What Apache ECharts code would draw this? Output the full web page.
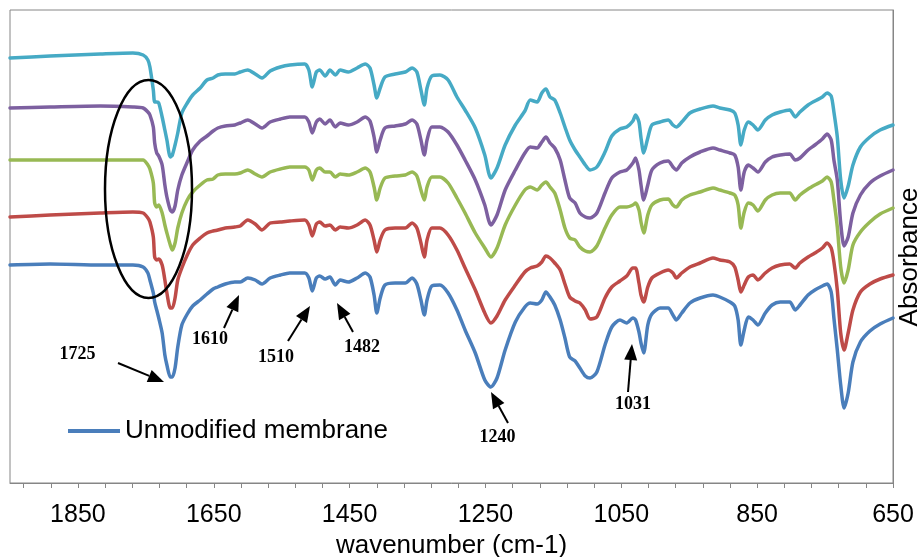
<!DOCTYPE html>
<html>
<head>
<meta charset="utf-8">
<title>FTIR spectra</title>
<script src="https://cdn.jsdelivr.net/npm/echarts@6/dist/echarts.min.js"></script>
<style>
    html, body { margin: 0; padding: 0; background: #fff; }
    #chart { width: 924px; height: 557px; }
</style>
</head>
<body>
<div id="chart"></div>
<script>
// wavenumber (cm-1), shared by every spectrum
var wavenumbers = [
    1950, 1891, 1817, 1769, 1754, 1747, 1744, 1739, 1737, 1734,
    1731, 1726, 1722, 1719, 1714, 1711, 1707, 1703, 1697, 1689,
    1681, 1670, 1660, 1651, 1644, 1633, 1619, 1611, 1600, 1589,
    1579, 1567, 1552, 1538, 1516, 1510, 1505, 1499, 1494, 1486,
    1479, 1471, 1464, 1452, 1439, 1427, 1420, 1414, 1410, 1405,
    1398, 1383, 1368, 1358, 1351, 1345, 1340, 1336, 1329, 1317,
    1305, 1292, 1280, 1265, 1251, 1242, 1233, 1221, 1206, 1192,
    1184, 1174, 1167, 1161, 1155, 1148, 1140, 1133, 1126, 1118,
    1111, 1103, 1096, 1086, 1074, 1064, 1052, 1042, 1033, 1029,
    1024, 1021, 1017, 1011, 1005, 993, 981, 974, 969, 961,
    949, 934, 915, 905, 890, 883, 878, 874, 869, 863,
    856, 849, 838, 828, 816, 802, 794, 787, 775, 765,
    754, 747, 741, 737, 732, 727, 722, 716, 709, 698,
    684, 669, 650
];

// absorbance (a.u., stacked offsets as plotted)
var unmodifiedMembrane = [
    2.18, 2.19, 2.18, 2.18, 2.16, 2.10, 2.03, 1.90, 1.81, 1.73,
    1.65, 1.50, 1.28, 1.18, 1.06, 1.06, 1.15, 1.36, 1.58, 1.69,
    1.77, 1.83, 1.89, 1.94, 1.96, 1.99, 2.01, 2.01, 2.05, 2.03,
    1.99, 2.05, 2.08, 2.10, 2.10, 2.05, 1.92, 2.05, 2.07, 2.04,
    2.06, 1.98, 2.03, 2.01, 2.05, 2.10, 2.06, 1.88, 1.70, 1.85,
    1.98, 2.00, 2.00, 2.05, 1.99, 1.83, 1.68, 1.83, 1.97, 1.98,
    1.90, 1.73, 1.53, 1.30, 1.03, 0.96, 1.05, 1.33, 1.61, 1.76,
    1.80, 1.79, 1.83, 1.91, 1.86, 1.78, 1.63, 1.45, 1.26, 1.22,
    1.15, 1.07, 1.05, 1.11, 1.38, 1.56, 1.63, 1.60, 1.65, 1.63,
    1.51, 1.40, 1.30, 1.58, 1.69, 1.75, 1.75, 1.68, 1.63, 1.70,
    1.80, 1.85, 1.88, 1.86, 1.81, 1.77, 1.63, 1.38, 1.53, 1.66,
    1.63, 1.58, 1.70, 1.78, 1.81, 1.81, 1.73, 1.78, 1.88, 1.93,
    1.97, 1.99, 1.91, 1.65, 1.33, 0.98, 0.75, 0.90, 1.21, 1.41,
    1.52, 1.59, 1.65
];

var redSpectrum = [
    2.66, 2.68, 2.70, 2.71, 2.70, 2.65, 2.61, 2.46, 2.26, 2.23,
    2.24, 2.18, 2.03, 1.90, 1.75, 1.75, 1.85, 2.03, 2.15, 2.28,
    2.38, 2.45, 2.50, 2.52, 2.53, 2.55, 2.56, 2.57, 2.63, 2.59,
    2.53, 2.60, 2.61, 2.62, 2.63, 2.58, 2.47, 2.59, 2.61, 2.57,
    2.58, 2.53, 2.56, 2.55, 2.58, 2.63, 2.58, 2.43, 2.31, 2.43,
    2.53, 2.55, 2.55, 2.60, 2.55, 2.40, 2.26, 2.43, 2.55, 2.55,
    2.48, 2.33, 2.15, 1.93, 1.70, 1.60, 1.67, 1.83, 1.98, 2.11,
    2.15, 2.17, 2.21, 2.27, 2.25, 2.20, 2.13, 1.99, 1.86, 1.82,
    1.80, 1.73, 1.64, 1.66, 1.85, 1.96, 2.02, 2.07, 2.15, 2.15,
    2.00, 1.88, 1.81, 1.96, 2.05, 2.10, 2.13, 2.10, 2.05, 2.10,
    2.16, 2.20, 2.25, 2.23, 2.21, 2.16, 2.03, 1.91, 1.98, 2.06,
    2.08, 2.03, 2.10, 2.15, 2.18, 2.19, 2.15, 2.20, 2.26, 2.30,
    2.35, 2.40, 2.35, 2.21, 1.93, 1.50, 1.33, 1.50, 1.73, 1.91,
    1.99, 2.04, 2.08
];

var greenSpectrum = [
    3.23, 3.23, 3.23, 3.23, 3.23, 3.18, 3.14, 3.00, 2.80, 2.76,
    2.78, 2.70, 2.58, 2.50, 2.38, 2.33, 2.40, 2.55, 2.70, 2.83,
    2.91, 2.98, 3.03, 3.04, 3.08, 3.09, 3.09, 3.10, 3.13, 3.09,
    3.06, 3.11, 3.14, 3.16, 3.16, 3.13, 3.03, 3.13, 3.15, 3.11,
    3.11, 3.06, 3.09, 3.08, 3.11, 3.15, 3.11, 2.96, 2.83, 2.95,
    3.05, 3.07, 3.08, 3.11, 3.07, 2.93, 2.83, 2.96, 3.06, 3.06,
    3.00, 2.85, 2.70, 2.50, 2.35, 2.26, 2.35, 2.58, 2.78, 2.93,
    2.96, 2.93, 2.98, 3.01, 2.96, 2.90, 2.73, 2.55, 2.45, 2.43,
    2.36, 2.32, 2.31, 2.37, 2.55, 2.68, 2.76, 2.76, 2.78, 2.80,
    2.73, 2.61, 2.50, 2.68, 2.78, 2.83, 2.84, 2.78, 2.76, 2.83,
    2.88, 2.91, 2.95, 2.93, 2.90, 2.88, 2.78, 2.55, 2.71, 2.80,
    2.78, 2.72, 2.83, 2.88, 2.90, 2.90, 2.83, 2.88, 2.94, 2.98,
    3.02, 3.06, 3.01, 2.83, 2.56, 2.16, 2.00, 2.13, 2.38, 2.51,
    2.61, 2.69, 2.75
];

var purpleSpectrum = [
    3.75, 3.76, 3.77, 3.76, 3.75, 3.71, 3.68, 3.56, 3.40, 3.30,
    3.27, 3.18, 2.98, 2.86, 2.73, 2.71, 2.77, 2.93, 3.08, 3.21,
    3.33, 3.42, 3.47, 3.52, 3.55, 3.57, 3.58, 3.60, 3.63, 3.59,
    3.55, 3.61, 3.64, 3.66, 3.66, 3.61, 3.50, 3.61, 3.64, 3.59,
    3.63, 3.56, 3.60, 3.58, 3.61, 3.66, 3.62, 3.46, 3.31, 3.43,
    3.55, 3.57, 3.59, 3.63, 3.59, 3.43, 3.28, 3.43, 3.56, 3.56,
    3.51, 3.38, 3.23, 3.03, 2.78, 2.58, 2.68, 2.93, 3.13, 3.30,
    3.36, 3.35, 3.41, 3.46, 3.40, 3.35, 3.23, 3.03, 2.85, 2.80,
    2.70, 2.66, 2.65, 2.70, 2.90, 3.05, 3.11, 3.13, 3.20, 3.25,
    3.13, 2.98, 2.83, 2.98, 3.13, 3.20, 3.22, 3.16, 3.13, 3.20,
    3.26, 3.31, 3.35, 3.33, 3.30, 3.28, 3.16, 2.93, 3.11, 3.18,
    3.15, 3.11, 3.21, 3.26, 3.28, 3.29, 3.23, 3.25, 3.33, 3.38,
    3.44, 3.49, 3.43, 3.23, 3.03, 2.60, 2.37, 2.46, 2.70, 2.88,
    3.00, 3.07, 3.13
];

var cyanSpectrum = [
    4.25, 4.27, 4.29, 4.30, 4.28, 4.23, 4.16, 3.93, 3.81, 3.81,
    3.80, 3.66, 3.53, 3.43, 3.26, 3.28, 3.38, 3.50, 3.70, 3.80,
    3.88, 3.95, 4.03, 4.05, 4.08, 4.09, 4.09, 4.11, 4.13, 4.09,
    4.05, 4.12, 4.16, 4.18, 4.19, 4.13, 3.96, 4.11, 4.13, 4.07,
    4.13, 4.08, 4.13, 4.11, 4.15, 4.19, 4.15, 3.98, 3.85, 3.95,
    4.06, 4.09, 4.11, 4.15, 4.11, 3.93, 3.78, 3.95, 4.07, 4.08,
    4.03, 3.86, 3.73, 3.55, 3.28, 3.05, 3.15, 3.38, 3.58, 3.72,
    3.83, 3.81, 3.90, 3.94, 3.86, 3.83, 3.70, 3.56, 3.43, 3.33,
    3.26, 3.18, 3.13, 3.16, 3.31, 3.47, 3.54, 3.56, 3.62, 3.68,
    3.61, 3.45, 3.30, 3.45, 3.58, 3.61, 3.63, 3.58, 3.56, 3.61,
    3.70, 3.74, 3.77, 3.75, 3.73, 3.70, 3.58, 3.38, 3.53, 3.61,
    3.58, 3.53, 3.63, 3.68, 3.71, 3.73, 3.66, 3.71, 3.78, 3.82,
    3.86, 3.90, 3.87, 3.71, 3.46, 3.03, 2.85, 2.97, 3.18, 3.36,
    3.46, 3.53, 3.58
];

var labelValues = [1850, 1650, 1450, 1250, 1050, 850, 650];
var tickValues = [
    650, 690, 730, 770, 810, 850, 890, 930, 970, 1010,
    1050, 1090, 1130, 1170, 1210, 1250, 1290, 1330, 1370, 1410,
    1450, 1490, 1530, 1570, 1610, 1650, 1690, 1730, 1770, 1810,
    1850, 1890, 1930
];

var peakLabels = ['1725', '1610', '1510', '1482', '1240', '1031'];

(function () {
    var myChart = echarts.init(document.getElementById('chart'), null, { renderer: 'canvas' });
    var gray = '#868686';
    var sansFont = '"Liberation Sans", Arial, sans-serif';

    var toPairs = function (values) {
        var data = [];
        for (var i = 0, len = wavenumbers.length; i < len; i++) {
            data.push([wavenumbers[i], values[i]]);
        }
        return data;
    };

    var spectrum = function (name, values, color) {
        return {
            name: name,
            type: 'line',
            data: toPairs(values),
            symbol: 'none',
            showSymbol: false,
            smooth: 0.25,
            silent: true,
            lineStyle: { color: color, width: 3.5, cap: 'round', join: 'round' },
            itemStyle: { color: color }
        };
    };

    // arrow + label layout (pixels), one per peak label
    var arrowLayout = [
        { lx: 77.5, ly: 354, x1: 118, y1: 363, x2: 164, y2: 382 },
        { lx: 210, ly: 339, x1: 224, y1: 328, x2: 239, y2: 295 },
        { lx: 276, ly: 357, x1: 288, y1: 341, x2: 310, y2: 306 },
        { lx: 362, ly: 347, x1: 353, y1: 332, x2: 337, y2: 303 },
        { lx: 497.5, ly: 437, x1: 508, y1: 423, x2: 491, y2: 392 },
        { lx: 633, ly: 404, x1: 628, y1: 392, x2: 632, y2: 344 }
    ];

    var graphics = [];
    for (var i = 0; i < arrowLayout.length; i++) {
        var a = arrowLayout[i];
        var dx = a.x2 - a.x1, dy = a.y2 - a.y1;
        var len = Math.sqrt(dx * dx + dy * dy);
        var ux = dx / len, uy = dy / len;
        var bx = a.x2 - ux * 16, by = a.y2 - uy * 16;
        var px = -uy * 6.5, py = ux * 6.5;
        graphics.push({
            type: 'line', z: 100,
            shape: { x1: a.x1, y1: a.y1, x2: bx, y2: by },
            style: { stroke: '#000', lineWidth: 2 }
        });
        graphics.push({
            type: 'polygon', z: 100,
            shape: { points: [[a.x2, a.y2], [bx + px, by + py], [bx - px, by - py]] },
            style: { fill: '#000' }
        });
        graphics.push({
            type: 'text', z: 100, x: a.lx, y: a.ly,
            style: {
                text: peakLabels[i], fill: '#000',
                fontSize: 18, fontWeight: 'bold', fontFamily: '"Liberation Serif", "Times New Roman", serif',
                align: 'center', verticalAlign: 'middle'
            }
        });
    }
    //ellipse round the carbonyl band
    graphics.push({
        type: 'ellipse', z: 100,
        shape: { cx: 148.5, cy: 189, rx: 43.5, ry: 109 },
        style: { fill: 'none', stroke: '#000', lineWidth: 2.5 }
    });
    graphics.push({
        type: 'text', z: 100, x: 910, y: 257, rotation: Math.PI / 2,
        style: {
            text: 'Absorbance', fill: '#000', fontSize: 26, fontFamily: sansFont,
            align: 'center', verticalAlign: 'middle'
        }
    });

    var option = {
        animation: false,
        backgroundColor: '#fff',
        grid: {
            left: 10, right: 31, top: 10, bottom: 74,
            show: true, borderColor: gray, borderWidth: 1,
            containLabel: false,
            outerBoundsMode: 'none'
        },
        legend: {
            data: ['Unmodified membrane'],
            left: 63, top: 413,
            icon: 'rect',
            itemWidth: 52, itemHeight: 4,
            itemGap: 10,
            selectedMode: false,
            textStyle: { fontSize: 26, color: '#000', fontFamily: sansFont }
        },
        xAxis: {
            type: 'value',
            min: 650, max: 1950,
            inverse: true,
            name: 'wavenumber (cm-1)',
            nameLocation: 'middle',
            nameGap: 45,
            nameTextStyle: { fontSize: 26, color: '#000', fontFamily: sansFont },
            splitLine: { show: false },
            axisLine: { show: true, onZero: false, lineStyle: { color: gray, width: 1 } },
            axisTick: { show: true, customValues: tickValues, length: 5, inside: false, lineStyle: { color: gray } },
            axisLabel: {
                customValues: labelValues, fontSize: 25, color: '#000', margin: 20, fontFamily: sansFont,
                formatter: function (v) { return String(v); }
            }
        },
        yAxis: {
            type: 'value',
            min: 0, max: 4.73,
            position: 'right',
            splitLine: { show: false },
            axisLine: { show: true, lineStyle: { color: gray, width: 1 } },
            axisTick: { show: false },
            axisLabel: { show: false }
        },
        series: [
            spectrum('Unmodified membrane', unmodifiedMembrane, '#4a7ebb'),
            spectrum('Membrane B', redSpectrum, '#be4b48'),
            spectrum('Membrane C', greenSpectrum, '#98b954'),
            spectrum('Membrane D', purpleSpectrum, '#7d60a0'),
            spectrum('Membrane E', cyanSpectrum, '#46aac5')
        ],
        graphic: graphics
    };

    myChart.setOption(option);
})();
</script>
</body>
</html>
